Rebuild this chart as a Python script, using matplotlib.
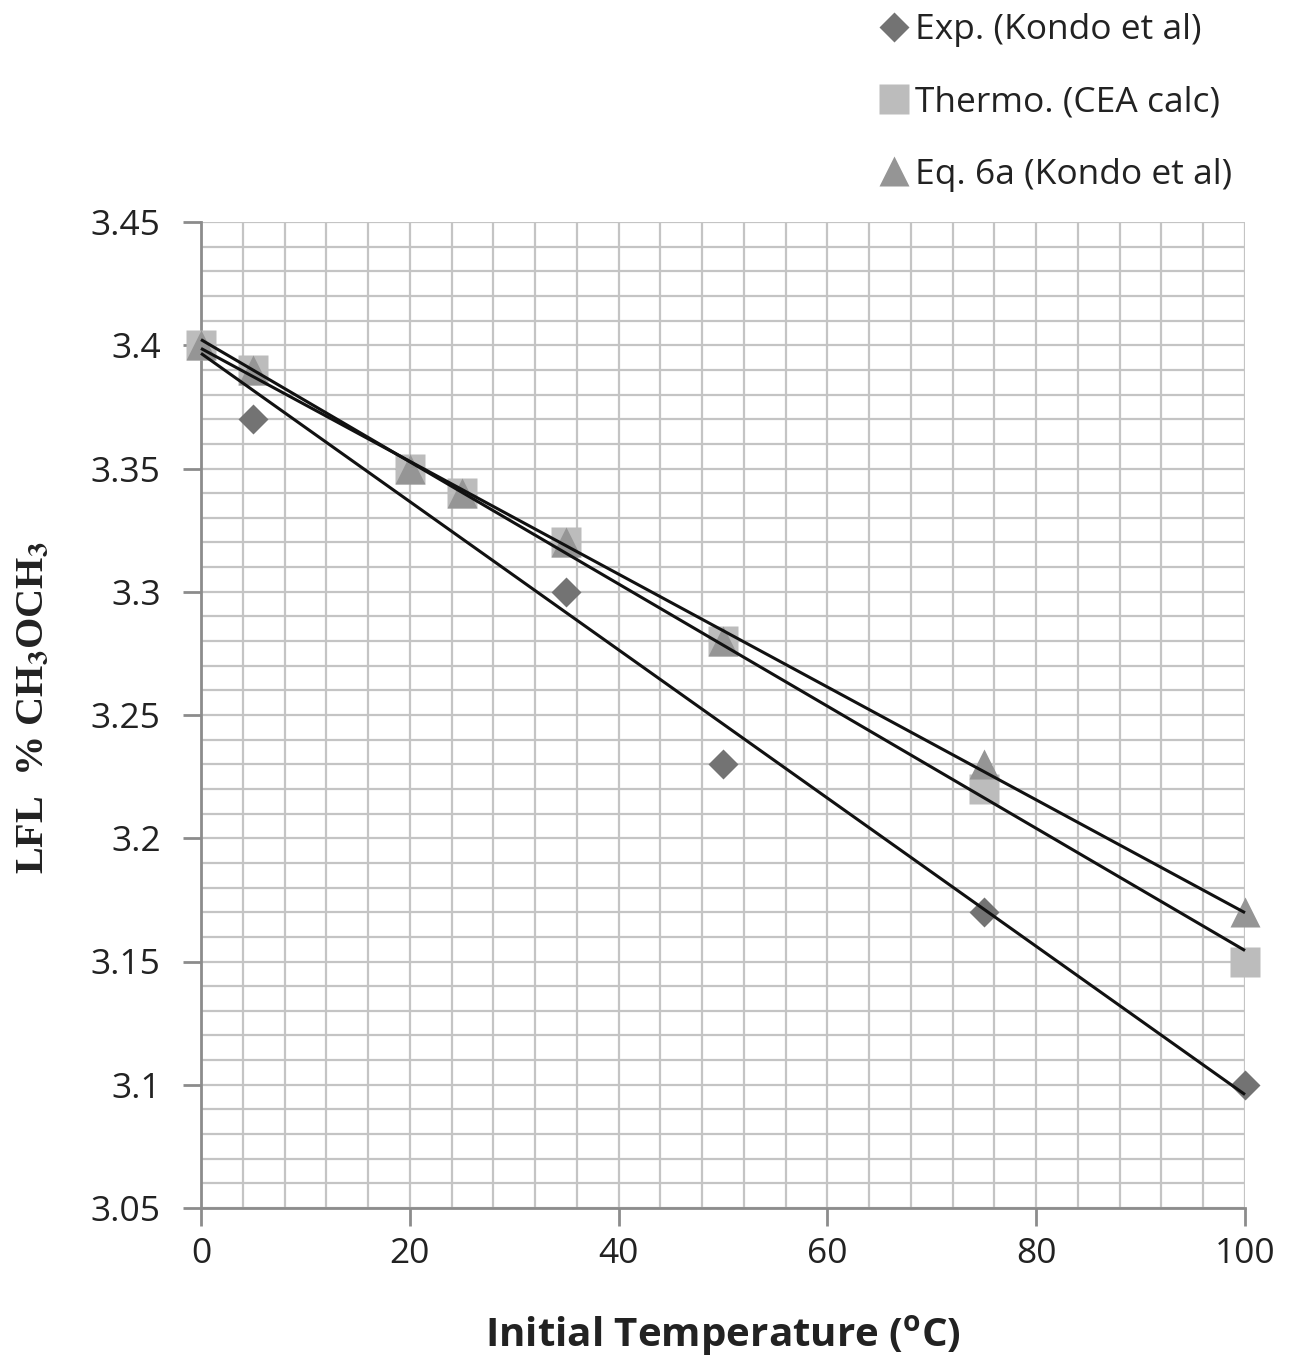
import numpy as np
import matplotlib
matplotlib.use("Agg")
import matplotlib.pyplot as plt
from matplotlib.ticker import MultipleLocator
from matplotlib.lines import Line2D

plt.rcParams['font.family'] = ['Open Sans', 'DejaVu Sans']
plt.rcParams['mathtext.fontset'] = 'custom'
plt.rcParams['mathtext.rm'] = 'Open Sans'
plt.rcParams['mathtext.bf'] = 'Open Sans:bold'
plt.rcParams['mathtext.it'] = 'Open Sans:italic'

# Data
exp_T = [0, 5, 20, 35, 50, 75, 100]
exp_LFL = [3.40, 3.37, 3.35, 3.30, 3.23, 3.17, 3.10]
thermo_T = [0, 5, 20, 25, 35, 50, 75, 100]
thermo_LFL = [3.40, 3.39, 3.35, 3.34, 3.32, 3.28, 3.22, 3.15]
eq_T = [0, 5, 20, 25, 35, 50, 75, 100]
eq_LFL = [3.40, 3.39, 3.35, 3.34, 3.32, 3.28, 3.23, 3.17]

labels = ["Exp. (Kondo et al)", "Thermo. (CEA calc)", "Eq. 6a (Kondo et al)"]
x_ticks = [0, 20, 40, 60, 80, 100]
y_ticks = [3.05, 3.1, 3.15, 3.2, 3.25, 3.3, 3.35, 3.4, 3.45]
y_ticklabels = ["3.05", "3.1", "3.15", "3.2", "3.25", "3.3", "3.35", "3.4", "3.45"]

c_exp = '#737373'
c_thermo = '#bcbcbc'
c_eq = '#959595'

fig = plt.figure(figsize=(12.93, 13.57), dpi=100)
ax = fig.add_axes([201/1293, 1 - 1208/1357, (1245-201)/1293, (1208-222)/1357])

ax.set_xlim(0, 100)
ax.set_ylim(3.05, 3.45)
ax.xaxis.set_minor_locator(MultipleLocator(4))
ax.yaxis.set_minor_locator(MultipleLocator(0.01))
ax.set_xticks(x_ticks)
ax.set_yticks(y_ticks)
ax.set_yticklabels(y_ticklabels)
ax.grid(which='both', color='#c4c4c4', linewidth=1.6, zorder=0)
ax.set_axisbelow(True)
for s in ['top', 'right']:
    ax.spines[s].set_visible(False)
for s in ['left', 'bottom']:
    ax.spines[s].set_color('#8c8c8c')
    ax.spines[s].set_linewidth(2)
ax.tick_params(which='major', direction='out', length=13, width=2, color='#8c8c8c',
               labelsize=25.5, labelcolor='#222222')
ax.tick_params(which='minor', length=0)
ax.tick_params(axis='x', pad=8)
ax.tick_params(axis='y', pad=16)

h1, = ax.plot(exp_T, exp_LFL, linestyle='none', marker='D', ms=15, color=c_exp,
              mec='none', zorder=3, clip_on=False)
h2, = ax.plot(thermo_T, thermo_LFL, linestyle='none', marker='s', ms=22, color=c_thermo,
              mec='none', zorder=4, clip_on=False)
h3, = ax.plot(eq_T, eq_LFL, linestyle='none', marker='^', ms=22, color=c_eq,
              mec='none', zorder=5, clip_on=False)

for T, L in [(exp_T, exp_LFL), (thermo_T, thermo_LFL), (eq_T, eq_LFL)]:
    p = np.polyfit(T, L, 1)
    xx = np.array([min(T), max(T)])
    ax.plot(xx, np.polyval(p, xx), color='#111111', lw=2.2, zorder=6,
            solid_capstyle='butt', clip_on=False)

ax.set_xlabel(r"Initial Temperature ($^{\mathbf{o}}$C)", fontsize=29, fontweight='bold',
              color='#222222', labelpad=30)

fig.text(33/1293, 1 - 707/1357, r"LFL  % CH$_\mathbf{3}$OCH$_\mathbf{3}$", rotation=90,
         ha='center', va='center', fontsize=29, fontweight='bold',
         family='Liberation Serif', math_fontfamily='stix', color='#222222')

handles = [Line2D([], [], linestyle='none', marker='D', ms=15, color=c_exp, mec='none'),
           Line2D([], [], linestyle='none', marker='s', ms=21, color=c_thermo, mec='none'),
           Line2D([], [], linestyle='none', marker='^', ms=21, color=c_eq, mec='none')]
fig.legend(handles, labels, loc='upper left', bbox_to_anchor=(851/1293, 1 + 15/1357),
           frameon=False, fontsize=25.5, handlelength=0.8, handletextpad=0.2,
           labelspacing=1.08, borderpad=0.3, labelcolor='#222222')

fig.savefig("out.png", dpi=100)
